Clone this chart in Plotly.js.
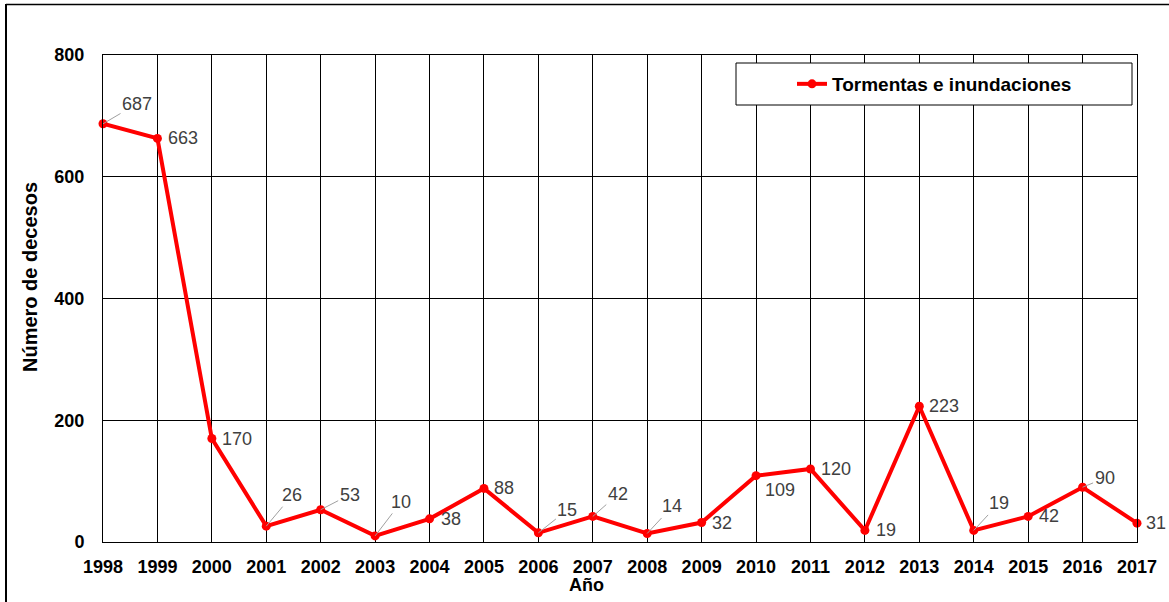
<!DOCTYPE html>
<html>
<head>
<meta charset="utf-8">
<script src="https://cdn.plot.ly/plotly-3.0.1.min.js"></script>
<style>
html,body{margin:0;padding:0;background:#fff;}
#chart{width:1169px;height:602px;}
</style>
</head>
<body>
<div id="chart"></div>
<script>
// ---- data ----
const years = [1998,1999,2000,2001,2002,2003,2004,2005,2006,2007,2008,2009,2010,2011,2012,2013,2014,2015,2016,2017];
const deaths = [687,663,170,26,53,10,38,88,15,42,14,32,109,120,19,223,19,42,90,31];
const seriesName = 'Tormentas e inundaciones';
const yTicks = [0,200,400,600,800];
const xTitle = 'Año';
const yTitle = 'Número de decesos';

// label placement (pixel offsets of label centre from its point; leader = draw a thin leader line)
const labelOffsets = [
  [34,-20,true],[26,0,false],[25,0,false],[26,-31,true],[29,-15,true],
  [26,-34,true],[21,0,false],[20,0,false],[29,-23,true],[25,-22,true],
  [25,-27,true],[20,0,false],[24,14,false],[26,0,false],[21,0,false],
  [25,0,false],[25,-27,true],[21,0,false],[22,-9,true],[19,0,false]
];

const FONT = 'Liberation Sans, Arial, sans-serif';
const L = 103, R = 32, T = 55, B = 60, W = 1169, H = 602;
const pw = W - L - R, ph = H - T - B;
const px2paperX = p => (p - L) / pw;
const px2paperY = p => (H - B - p) / ph;

const annotations = years.map((yr, i) => {
  const [dx, dy, leader] = labelOffsets[i];
  const base = {
    x: yr, y: deaths[i], xref: 'x', yref: 'y',
    text: String(deaths[i]),
    font: {family: FONT, size: 18, color: '#404040'}
  };
  if (leader) {
    return Object.assign(base, {
      showarrow: true, ax: dx, ay: dy, axref: 'pixel', ayref: 'pixel',
      arrowhead: 0, arrowwidth: 1, arrowcolor: '#a0a0a0', standoff: 0
    });
  }
  return Object.assign(base, {showarrow: false, xshift: dx, yshift: -dy, xanchor: 'center', yanchor: 'middle'});
});

annotations.push({
  text: yTitle, textangle: -90, xref: 'paper', yref: 'paper',
  x: px2paperX(30), y: px2paperY(277), xanchor: 'center', yanchor: 'middle', showarrow: false,
  font: {family: FONT, size: 20, color: '#000', weight: 'bold'}
});
annotations.push({
  text: xTitle, xref: 'paper', yref: 'paper',
  x: px2paperX(586), y: px2paperY(585), xanchor: 'center', yanchor: 'middle', showarrow: false,
  font: {family: FONT, size: 18, color: '#000', weight: 'bold'}
});

const shapes = [
  // outer frame (left & top edges visible)
  {type: 'line', xref: 'paper', yref: 'paper', x0: px2paperX(6), x1: px2paperX(6), y0: px2paperY(4), y1: px2paperY(602), line: {color: '#000', width: 2}},
  {type: 'line', xref: 'paper', yref: 'paper', x0: px2paperX(6), x1: px2paperX(1169), y0: px2paperY(4.5), y1: px2paperY(4.5), line: {color: '#000', width: 1.5}},
  // legend box
  {type: 'rect', xref: 'paper', yref: 'paper', x0: px2paperX(736), x1: px2paperX(1132), y0: px2paperY(63), y1: px2paperY(105), line: {color: '#000', width: 1}, fillcolor: '#fff', layer: 'above'}
];

const trace = {
  x: years, y: deaths, name: seriesName, type: 'scatter', mode: 'lines+markers',
  line: {color: '#ff0000', width: 4},
  marker: {color: '#ff0000', size: 9},
  cliponaxis: false
};

const layout = {
  width: W, height: H,
  margin: {l: L, r: R, t: T, b: B},
  paper_bgcolor: '#fff', plot_bgcolor: '#fff',
  showlegend: true,
  legend: {
    x: px2paperX(792), y: px2paperY(84), xanchor: 'left', yanchor: 'middle',
    bgcolor: 'rgba(0,0,0,0)', borderwidth: 0,
    font: {family: FONT, size: 19, color: '#000', weight: 'bold'}
  },
  xaxis: {
    range: [years[0], years[years.length - 1]],
    tickvals: years, ticktext: years.map(String),
    showgrid: true, gridcolor: '#000', gridwidth: 1,
    showline: true, linecolor: '#000', linewidth: 1, mirror: true,
    zeroline: false, ticks: '', ticklabelstandoff: 8,
    tickfont: {family: FONT, size: 18, color: '#000', weight: 'bold'}
  },
  yaxis: {
    range: [0, 800], tickvals: yTicks,
    showgrid: true, gridcolor: '#000', gridwidth: 1,
    showline: true, linecolor: '#000', linewidth: 1, mirror: true,
    zeroline: false, ticks: '', ticklabelstandoff: 14,
    tickfont: {family: FONT, size: 18, color: '#000', weight: 'bold'}
  },
  annotations: annotations,
  shapes: shapes
};

Plotly.newPlot('chart', [trace], layout, {displayModeBar: false, staticPlot: true});
</script>
</body>
</html>
